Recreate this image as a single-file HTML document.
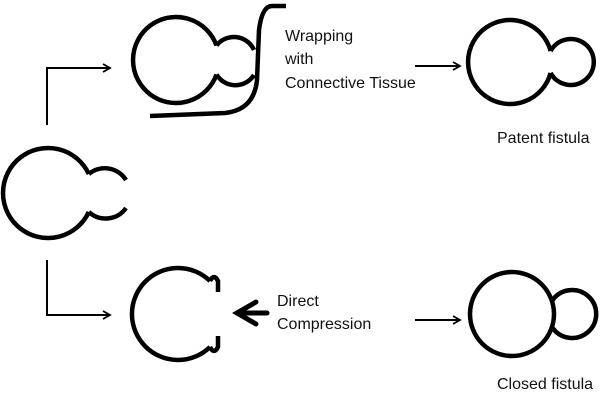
<!DOCTYPE html>
<html><head><style>
body{margin:0;background:#fff;width:600px;height:400px;overflow:hidden}
svg{display:block}
text{font-family:"Liberation Sans",sans-serif;font-size:16px;fill:#111}
</style></head><body>
<svg width="600" height="400" viewBox="0 0 600 400">
<defs><marker id="a" markerWidth="10" markerHeight="10" refX="8" refY="5" orient="auto" markerUnits="userSpaceOnUse"><path d="M1,1 L8,5 L1,9" fill="none" stroke="#000" stroke-width="1.8"/></marker></defs>
<g fill="none" stroke="#000" stroke-width="4.5" stroke-linecap="butt">
<path d="M88.8,174 A45,45 0 1 0 88.8,212"/>
<path d="M88.8,174 A25,25 0 0 1 126,180"/>
<path d="M88.8,212 A25,25 0 0 0 126,208"/>
<path d="M216.5,45.5 A43,43 0 1 0 216.5,74.5"/>
<path d="M216.5,45.5 A22,22 0 0 1 254,50"/>
<path d="M216.5,74.5 A22,22 0 0 0 254,75"/>
<path d="M286,6 L272,6 Q262,6 259,30 L257,80 Q254,110 225,113 L150,116"/>
<path d="M550.6,51 A42,42 0 1 0 550.6,73"/>
<path d="M550.6,51 A23,23 0 1 1 550.6,73"/>
<path d="M210,281 A46,46 0 1 0 210,347"/>
<path d="M210,281 Q214,273 218,281 L218,292"/>
<path d="M210,347 Q214,355 218,347 L218,336"/>
<circle cx="512" cy="314" r="42"/>
<path d="M552,301 A24,24 0 1 1 552,327"/>
</g>
<g fill="none" stroke="#000" stroke-width="2">
<path d="M47,125 L47,68 L110,68" marker-end="url(#a)"/>
<path d="M47,260 L47,315 L110,315" marker-end="url(#a)"/>
<path d="M415,66 L460,66" marker-end="url(#a)"/>
<path d="M415,320 L460,320" marker-end="url(#a)"/>
</g>
<g fill="none" stroke="#000" stroke-width="5" stroke-linecap="round">
<path d="M256,302 L237,313 L256,324"/>
<path d="M237,313 L267,313"/>
</g>
<text x="285" y="41">Wrapping</text>
<text x="285" y="64">with</text>
<text x="285" y="88">Connective Tissue</text>
<text x="497" y="143">Patent fistula</text>
<text x="277" y="306">Direct</text>
<text x="277" y="329">Compression</text>
<text x="497" y="389">Closed fistula</text>
</svg>
</body></html>
